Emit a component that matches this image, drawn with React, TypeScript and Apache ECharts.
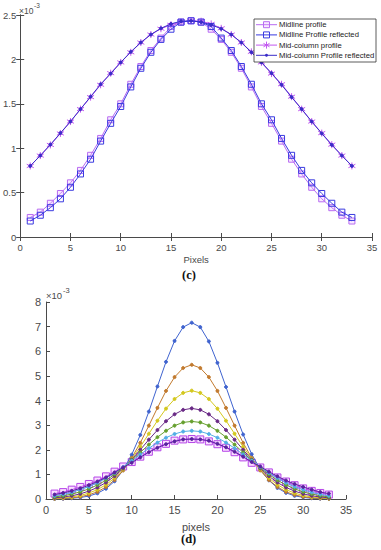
import React, { useEffect, useRef } from "react";
import * as echarts from "echarts";

// pixel index 1..33
const pixels = [1,2,3,4,5,6,7,8,9,10,11,12,13,14,15,16,17,18,19,20,21,22,23,24,25,26,27,28,29,30,31,32,33];
const xTicks = [0, 5, 10, 15, 20, 25, 30, 35];

// ---- panel (c), values in units of 1e-3 ----
const midlineProfile = [0.22,0.28,0.38,0.49,0.61,0.75,0.92,1.11,1.32,1.50,1.72,1.92,2.10,2.24,2.37,2.42,2.435,2.42,2.34,2.225,2.08,1.90,1.69,1.47,1.28,1.08,0.876,0.71,0.56,0.43,0.33,0.245,0.18];
const midlineReflected = [0.18,0.245,0.33,0.43,0.56,0.71,0.876,1.08,1.28,1.47,1.69,1.90,2.08,2.225,2.34,2.42,2.435,2.42,2.37,2.24,2.10,1.92,1.72,1.50,1.32,1.11,0.92,0.75,0.61,0.49,0.38,0.28,0.22];
const midColumnProfile = [0.80,0.917,1.037,1.166,1.30,1.44,1.575,1.714,1.845,1.966,2.08,2.19,2.28,2.345,2.39,2.42,2.435,2.43,2.40,2.35,2.28,2.19,2.085,1.966,1.84,1.72,1.58,1.44,1.30,1.17,1.04,0.917,0.80];
const midColumnReflected = [0.80,0.917,1.04,1.17,1.30,1.44,1.58,1.72,1.84,1.966,2.085,2.19,2.28,2.35,2.40,2.43,2.435,2.42,2.39,2.345,2.28,2.19,2.08,1.966,1.845,1.714,1.575,1.44,1.30,1.166,1.037,0.917,0.80];

// ---- panel (d), values in units of 1e-3 ----
const curveBlue = [0.005,0.013,0.03,0.06,0.12,0.23,0.42,0.72,1.17,1.80,2.60,3.55,4.57,5.57,6.42,6.98,7.16,6.98,6.40,5.53,4.55,3.55,2.62,1.82,1.20,0.76,0.45,0.25,0.13,0.065,0.03,0.014,0.006];
const curveOrange = [0.011,0.024,0.048,0.092,0.17,0.29,0.49,0.77,1.16,1.67,2.28,2.98,3.70,4.39,4.95,5.32,5.45,5.32,4.95,4.39,3.70,2.98,2.28,1.67,1.16,0.77,0.49,0.29,0.17,0.092,0.048,0.024,0.011];
const curveYellow = [0.025,0.046,0.083,0.144,0.24,0.38,0.58,0.85,1.20,1.63,2.12,2.65,3.18,3.67,4.06,4.31,4.40,4.31,4.06,3.67,3.18,2.65,2.12,1.63,1.20,0.85,0.58,0.38,0.24,0.144,0.083,0.046,0.025];
const curvePurple = [0.047,0.080,0.13,0.21,0.32,0.47,0.67,0.93,1.24,1.60,2.00,2.41,2.80,3.16,3.44,3.62,3.68,3.62,3.44,3.16,2.80,2.41,2.00,1.60,1.24,0.93,0.67,0.47,0.32,0.21,0.13,0.080,0.047];
const curveGreen = [0.084,0.13,0.20,0.29,0.41,0.57,0.76,1.00,1.27,1.57,1.89,2.21,2.51,2.77,2.98,3.11,3.15,3.11,2.98,2.77,2.51,2.21,1.89,1.57,1.27,1.00,0.76,0.57,0.41,0.29,0.20,0.13,0.084];
const curveCyan = [0.13,0.19,0.27,0.38,0.50,0.66,0.85,1.06,1.30,1.55,1.81,2.06,2.29,2.49,2.64,2.74,2.77,2.74,2.64,2.49,2.29,2.06,1.81,1.55,1.30,1.06,0.85,0.66,0.50,0.38,0.27,0.19,0.13];

const legendNames = ["Midline profile", "Midline Profile reflected", "Mid-column profile", "Mid-column Profile reflected"];
const legendColors = ["#b86cf2", "#3a3ae0", "#c258f0", "#3a2cc8"];

const FONT = "'Liberation Sans', Arial, sans-serif";
const AX = "#4a4a4a";
const LBL = "#4a4a4a";
const ASTERISK = "path://M5,0L5,10M0.67,2.5L9.33,7.5M0.67,7.5L9.33,2.5";

const pair = (ys: number[]) => pixels.map((x, i) => [x, ys[i]]);

export default function App() {
  const ref = useRef<HTMLDivElement>(null);
  useEffect(() => {
    document.body.style.margin = "0";
    const chart = echarts.init(ref.current!, null, { renderer: "svg" });

    const xBase = (gridIndex: number, fontSize: number, name: string, nameGap: number) => ({
      gridIndex, type: "value", min: 0, max: 35, interval: 5, position: "bottom",
      name, nameLocation: "middle", nameGap,
      nameTextStyle: { fontFamily: FONT, fontSize, color: LBL },
      axisLine: { show: true, lineStyle: { color: AX, width: 1 } },
      axisTick: { show: true, inside: true, length: 4, lineStyle: { color: AX } },
      axisLabel: { show: true, fontFamily: FONT, fontSize, color: LBL, margin: 5, formatter: (v: number) => (xTicks.includes(v) ? String(v) : "") },
      splitLine: { show: false },
    });

    const lineSeries = (name: string, data: number[], color: string, symbol: string, size: number, fill: string, xi: number, yi: number, z: number) => ({
      name, type: "line", xAxisIndex: xi, yAxisIndex: yi, data: pair(data),
      symbol, symbolSize: size, showSymbol: true, z,
      lineStyle: { color, width: 1 },
      itemStyle: { color: fill, borderColor: color, borderWidth: 1 },
      smooth: false,
    });

    // manual MATLAB-style legend box
    const LX = 254, LY = 19, LW = 122, LH = 43;
    const rowY = [24.7, 34.9, 45.1, 55.3];
    const legendEls: any[] = [
      { type: "rect", z: 20, shape: { x: LX, y: LY, width: LW, height: LH }, style: { fill: "#ffffff", stroke: "#333333", lineWidth: 0.8 } },
    ];
    rowY.forEach((y, i) => {
      const c = legendColors[i];
      legendEls.push({ type: "line", z: 21, shape: { x1: 256, y1: y, x2: 277, y2: y }, style: { stroke: c, lineWidth: 1 } });
      const cx = 266.5;
      if (i < 2) {
        legendEls.push({ type: "rect", z: 22, shape: { x: cx - 3, y: y - 3, width: 6, height: 6 }, style: { fill: i === 0 ? "rgba(230,170,255,0.25)" : "rgba(0,0,0,0)", stroke: c, lineWidth: 1 } });
      } else if (i === 2) {
        legendEls.push({ type: "line", z: 22, shape: { x1: cx, y1: y - 3.5, x2: cx, y2: y + 3.5 }, style: { stroke: c, lineWidth: 1 } });
        legendEls.push({ type: "line", z: 22, shape: { x1: cx - 3, y1: y - 1.75, x2: cx + 3, y2: y + 1.75 }, style: { stroke: c, lineWidth: 1 } });
        legendEls.push({ type: "line", z: 22, shape: { x1: cx - 3, y1: y + 1.75, x2: cx + 3, y2: y - 1.75 }, style: { stroke: c, lineWidth: 1 } });
      } else {
        legendEls.push({ type: "circle", z: 22, shape: { cx, cy: y, r: 1.5 }, style: { fill: c } });
      }
      legendEls.push({ type: "text", z: 22, style: { x: 279, y, text: legendNames[i], fontFamily: FONT, fontSize: 7.7, fill: "#222222", verticalAlign: "middle", align: "left" } });
    });

    const option: any = {
      animation: false,
      backgroundColor: "#ffffff",
      grid: [
        { left: 19, top: 15, width: 353, height: 222, containLabel: false },
        { left: 46, top: 302, width: 300, height: 197, containLabel: false },
      ],
      xAxis: [
        xBase(0, 9.5, "Pixels", 17),
        { gridIndex: 0, type: "value", min: 0, max: 35, interval: 5, position: "top",
          axisLine: { show: true, lineStyle: { color: AX, width: 1 } },
          axisTick: { show: true, inside: true, length: 4, lineStyle: { color: AX } },
          axisLabel: { show: false }, splitLine: { show: false } },
        xBase(1, 11, "pixels", 22),
      ],
      yAxis: [
        { gridIndex: 0, type: "value", min: 0, max: 2.5, interval: 0.5, position: "left",
          axisLine: { show: true, lineStyle: { color: AX, width: 1 } },
          axisTick: { show: true, inside: true, length: 4, lineStyle: { color: AX } },
          axisLabel: { fontFamily: FONT, fontSize: 9.5, color: LBL, margin: 4 },
          splitLine: { show: false } },
        { gridIndex: 0, type: "value", min: 0, max: 2.5, interval: 0.5, position: "right",
          axisLine: { show: true, lineStyle: { color: AX, width: 1 } },
          axisTick: { show: true, inside: true, length: 4, lineStyle: { color: AX } },
          axisLabel: { show: false }, splitLine: { show: false } },
        { gridIndex: 1, type: "value", min: 0, max: 8, interval: 1, position: "left",
          axisLine: { show: true, lineStyle: { color: AX, width: 1 } },
          axisTick: { show: true, inside: true, length: 4, lineStyle: { color: AX } },
          axisLabel: { fontFamily: FONT, fontSize: 11, color: LBL, margin: 5 },
          splitLine: { show: false } },
      ],
      series: [
        lineSeries(legendNames[0], midlineProfile, legendColors[0], "rect", 6, "rgba(230,170,255,0.25)", 0, 0, 3),
        lineSeries(legendNames[1], midlineReflected, legendColors[1], "rect", 6, "rgba(0,0,0,0)", 0, 0, 4),
        lineSeries(legendNames[2], midColumnProfile, legendColors[2], ASTERISK, 7, "rgba(0,0,0,0)", 0, 0, 3),
        lineSeries(legendNames[3], midColumnReflected, legendColors[3], "circle", 3, legendColors[3], 0, 0, 4),

        lineSeries("p1", curveBlue, "#3f63cf", "circle", 3, "#3f63cf", 2, 2, 5),
        lineSeries("p2", curveOrange, "#c27a2e", "circle", 3, "#c27a2e", 2, 2, 5),
        lineSeries("p3", curveYellow, "#d4c81e", "circle", 3, "#d4c81e", 2, 2, 5),
        lineSeries("p4", curvePurple, "#6a2a86", "circle", 3, "#6a2a86", 2, 2, 5),
        lineSeries("p5", curveGreen, "#66a02e", "circle", 3, "#66a02e", 2, 2, 5),
        lineSeries("p6", curveCyan, "#52aee6", "circle", 3, "#52aee6", 2, 2, 5),
        lineSeries("p7", midlineProfile, "#b545e8", "rect", 7, "rgba(240,160,255,0.35)", 2, 2, 4),
        lineSeries("p8", midlineReflected, "#5a22a0", "circle", 3, "#5a22a0", 2, 2, 6),
      ],
      graphic: [
        ...legendEls,
        { type: "text", style: { x: 19, y: 6, text: "×10", fontFamily: FONT, fontSize: 8.5, fill: LBL } },
        { type: "text", style: { x: 34, y: 2, text: "-3", fontFamily: FONT, fontSize: 6.5, fill: LBL } },
        { type: "text", style: { x: 46, y: 290, text: "×10", fontFamily: FONT, fontSize: 9.5, fill: LBL } },
        { type: "text", style: { x: 63, y: 286, text: "-3", fontFamily: FONT, fontSize: 7.5, fill: LBL } },
        { type: "text", style: { x: 182, y: 268, text: "(c)", fontFamily: "'Liberation Serif', 'Times New Roman', serif", fontWeight: "bold", fontSize: 12.5, fill: "#111" } },
        { type: "text", style: { x: 181, y: 532, text: "(d)", fontFamily: "'Liberation Serif', 'Times New Roman', serif", fontWeight: "bold", fontSize: 12.5, fill: "#111" } },
      ],
    };
    chart.setOption(option);
    return () => chart.dispose();
  }, []);
  return <div ref={ref} style={{ width: 381, height: 550 }} />;
}
